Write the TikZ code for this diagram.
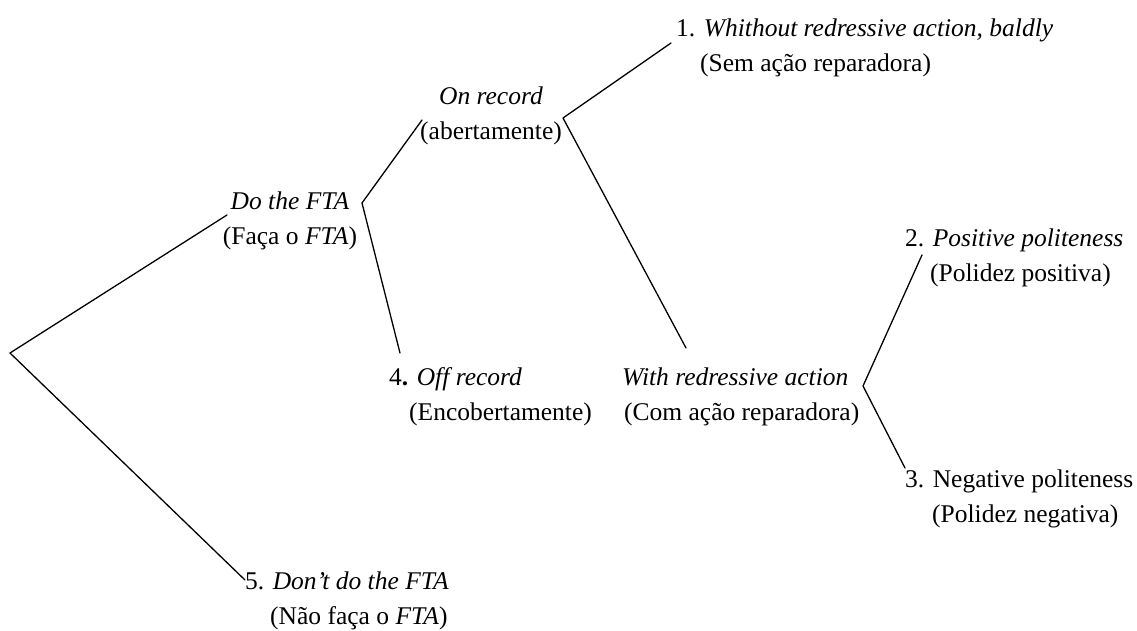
\documentclass[tikz,border=0pt]{standalone}
\usepackage{fontspec}
\setmainfont{Liberation Serif}
\begin{document}
\begin{tikzpicture}[x=1pt,y=-1pt,
  lbl/.style={inner sep=0pt, font=\fontsize{25.5}{35}\selectfont},
  branch/.style={line width=1.3pt, line cap=round, line join=round}]
\useasboundingbox (0,0) rectangle (1137,631);
% labels
\node[lbl,anchor=base] (do) at (290,210)
  {\begin{tabular}[t]{@{}c@{}}\textit{Do the FTA}\\(Faça o \textit{FTA})\end{tabular}};
\node[lbl,anchor=base] (on) at (491,105)
  {\begin{tabular}[t]{@{}c@{}}\textit{On record}\\(abertamente)\end{tabular}};
\node[lbl,anchor=base west] (one) at (676,37)
  {\begin{tabular}[t]{@{}l@{}}1. \textit{Whithout redressive action, baldly}\\\hspace*{24pt}(Sem ação reparadora)\end{tabular}};
\node[lbl,anchor=base west] (two) at (905,246)
  {\begin{tabular}[t]{@{}l@{}}2. \textit{Positive politeness}\\\hspace*{25pt}(Polidez positiva)\end{tabular}};
\node[lbl,anchor=base west] (with) at (622,385)
  {\begin{tabular}[t]{@{}l@{}}\textit{With redressive action}\\\hspace*{2pt}(Com ação reparadora)\end{tabular}};
\node[lbl,anchor=base west] (off) at (389,385)
  {\begin{tabular}[t]{@{}l@{}}4\textbf{.} \textit{Off record}\\\hspace*{20pt}(Encobertamente)\end{tabular}};
\node[lbl,anchor=base west] (three) at (905,487)
  {\begin{tabular}[t]{@{}l@{}}3. Negative politeness\\\hspace*{27pt}(Polidez negativa)\end{tabular}};
\node[lbl,anchor=base west] (dont) at (245,589)
  {\begin{tabular}[t]{@{}l@{}}5. \textit{Don’t do the FTA}\\\hspace*{25pt}(Não faça o \textit{FTA})\end{tabular}};
% branch points and ends
\coordinate (root) at (10,353);
\coordinate (doIn) at (227,215);
\coordinate (dontIn) at (245,580);
\coordinate (doV) at (362,203);
\coordinate (onIn) at (422,120);
\coordinate (offIn) at (400,353);
\coordinate (onV) at (563,118);
\coordinate (oneIn) at (671,43);
\coordinate (withIn) at (686,348);
\coordinate (withV) at (863,386);
\coordinate (twoIn) at (922,255);
\coordinate (threeIn) at (905,468);
% connectors
\draw[branch] (doIn) -- (root) -- (dontIn);
\draw[branch] (onIn) -- (doV) -- (offIn);
\draw[branch] (oneIn) -- (onV) -- (withIn);
\draw[branch] (twoIn) -- (withV) -- (threeIn);
\end{tikzpicture}
\end{document}
